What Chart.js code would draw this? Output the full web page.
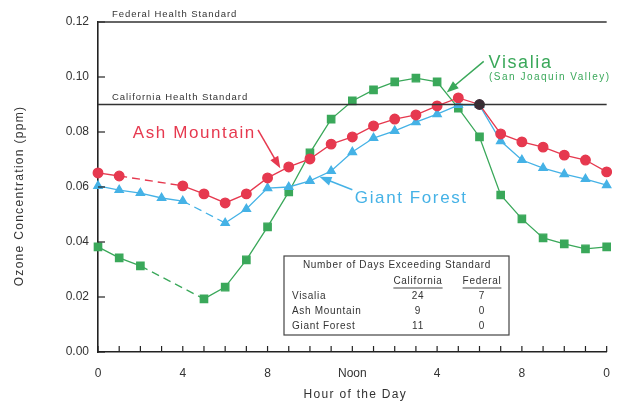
<!DOCTYPE html>
<html>
<head>
<meta charset="utf-8">
<script src="https://cdn.jsdelivr.net/npm/chart.js@4.4.1/dist/chart.umd.min.js"></script>
<style>
  html, body { margin: 0; padding: 0; background: #fff; }
  #wrap { width: 624px; height: 401px; position: relative; }
</style>
</head>
<body>
<div id="wrap"><canvas id="ozoneChart"></canvas></div>
<script>
// Ozone by hour of day
const hours = [0,1,2,3,4,5,6,7,8,9,10,11,12,13,14,15,16,17,18,19,20,21,22,23,24];
const xTickLabels = {0: '0', 4: '4', 8: '8', 12: 'Noon', 16: '4', 20: '8', 24: '0'};
const yTicks = [0, 0.02, 0.04, 0.06, 0.08, 0.10, 0.12];

const visalia = [0.0382, 0.0342, 0.0313, null, null, 0.0193, 0.0236, 0.0335, 0.0455, 0.0582,
  0.0724, 0.0847, 0.0913, 0.0953, 0.0982, 0.0996, 0.0982, 0.0887, 0.0782, 0.0571,
  0.0484, 0.0415, 0.0393, 0.0375, 0.0382];
const ashMountain = [0.0651, 0.0640, null, null, 0.0604, 0.0575, 0.0542, 0.0575, 0.0633, 0.0673,
  0.0702, 0.0756, 0.0782, 0.0822, 0.0847, 0.0862, 0.0895, 0.0924, 0.0900, 0.0793,
  0.0764, 0.0745, 0.0716, 0.0698, 0.0655];
const giantForest = [0.0604, 0.0589, 0.0578, 0.0560, 0.0549, null, 0.0469, 0.0520, 0.0596, 0.0600,
  0.0622, 0.0658, 0.0727, 0.0778, 0.0804, 0.0836, 0.0865, 0.0898, 0.0898, 0.0767,
  0.0698, 0.0669, 0.0647, 0.0629, 0.0607];

const federalStandard = 0.12;
const californiaStandard = 0.09;

const tableTitle = 'Number of Days Exceeding Standard';
const tableColumns = ['California', 'Federal'];
const tableSites = ['Visalia', 'Ash Mountain', 'Giant Forest'];
const californiaDays = [24, 9, 11];
const federalDays = [7, 0, 0];

const RED = '#e6394f';
const BLUE = '#45b2e6';
const GREEN = '#3aa85a';
const FONT = '"Liberation Sans", Arial, sans-serif';

// dashed across missing hours
const gapDash = ctx => (ctx.p0.skip || ctx.p1.skip || ctx.p1DataIndex - ctx.p0DataIndex > 1 ? [8, 5] : undefined);

// inward ticks, standard lines, axis titles and labels
const decorations = {
  id: 'decorations',
  afterDraw(chart) {
    const { ctx, chartArea: area, scales: { x, y } } = chart;
    ctx.save();
    ctx.strokeStyle = '#222';
    ctx.lineWidth = 1.2;
    hours.forEach(h => {
      const px = x.getPixelForValue(h);
      ctx.beginPath();
      ctx.moveTo(px, area.bottom);
      ctx.lineTo(px, area.bottom - 6);
      ctx.stroke();
    });
    yTicks.forEach(v => {
      const py = y.getPixelForValue(v);
      ctx.beginPath();
      ctx.moveTo(area.left, py);
      ctx.lineTo(area.left + 7, py);
      ctx.stroke();
    });

    // standards
    ctx.lineWidth = 1.6;
    ctx.strokeStyle = '#333';
    [federalStandard, californiaStandard].forEach(v => {
      const py = y.getPixelForValue(v);
      ctx.beginPath();
      ctx.moveTo(area.left, py);
      ctx.lineTo(area.right, py);
      ctx.stroke();
    });
    ctx.fillStyle = '#333';
    ctx.font = '9.5px ' + FONT;
    ctx.letterSpacing = '0.95px';
    ctx.textBaseline = 'bottom';
    ctx.fillText('Federal Health Standard', area.left + 14, y.getPixelForValue(federalStandard) - 3);
    ctx.fillText('California Health Standard', area.left + 14, y.getPixelForValue(californiaStandard) - 2);

    // axis titles
    ctx.font = '12px ' + FONT;
    ctx.letterSpacing = '1.3px';
    ctx.textAlign = 'center';
    ctx.textBaseline = 'middle';
    ctx.fillText('Hour of the Day', (area.left + area.right) / 2 + 3, 395);
    ctx.save();
    ctx.translate(20, 196);
    ctx.rotate(-Math.PI / 2);
    ctx.fillText('Ozone Concentration (ppm)', 0, 0);
    ctx.restore();
    ctx.textAlign = 'left';

    // series labels with arrows
    const label = (text, hour, val, color, size) => {
      ctx.fillStyle = color;
      ctx.font = size + 'px ' + FONT;
      ctx.textBaseline = 'middle';
      ctx.fillText(text, x.getPixelForValue(hour), y.getPixelForValue(val));
    };
    const arrow = (h0, v0, h1, v1, color) => {
      const x0 = x.getPixelForValue(h0), y0 = y.getPixelForValue(v0);
      const x1 = x.getPixelForValue(h1), y1 = y.getPixelForValue(v1);
      const a = Math.atan2(y1 - y0, x1 - x0);
      ctx.strokeStyle = color;
      ctx.fillStyle = color;
      ctx.lineWidth = 1.5;
      ctx.beginPath();
      ctx.moveTo(x0, y0);
      ctx.lineTo(x1 - 8 * Math.cos(a), y1 - 8 * Math.sin(a));
      ctx.stroke();
      ctx.beginPath();
      ctx.moveTo(x1, y1);
      ctx.lineTo(x1 - 12 * Math.cos(a) + 4.5 * Math.sin(a), y1 - 12 * Math.sin(a) - 4.5 * Math.cos(a));
      ctx.lineTo(x1 - 12 * Math.cos(a) - 4.5 * Math.sin(a), y1 - 12 * Math.sin(a) + 4.5 * Math.cos(a));
      ctx.closePath();
      ctx.fill();
    };
    ctx.letterSpacing = '1.6px';
    label('Ash Mountain', 1.64, 0.0797, RED, 17);
    arrow(7.55, 0.0808, 8.6, 0.0668, RED);
    label('Giant Forest', 12.12, 0.0558, BLUE, 17);
    arrow(12.0, 0.0590, 10.45, 0.0637, BLUE);
    label('Visalia', 18.43, 0.1052, GREEN, 18);
    ctx.letterSpacing = '1.5px';
    label('(San Joaquin Valley)', 18.45, 0.1, GREEN, 10);
    arrow(18.2, 0.1057, 16.45, 0.0944, GREEN);

    // table box
    const bx = 284, by = 256, bw = 225, bh = 79;
    ctx.strokeStyle = '#444';
    ctx.lineWidth = 1.2;
    ctx.fillStyle = '#fff';
    ctx.fillRect(bx, by, bw, bh);
    ctx.strokeRect(bx, by, bw, bh);
    ctx.fillStyle = '#333';
    ctx.font = '10px ' + FONT;
    ctx.letterSpacing = '0.7px';
    ctx.textAlign = 'center';
    ctx.textBaseline = 'middle';
    ctx.fillText(tableTitle, bx + 113, by + 9);
    const colX = [bx + 134, bx + 198];
    tableColumns.forEach((c, i) => {
      ctx.fillText(c, colX[i], by + 25);
      const w = ctx.measureText(c).width;
      ctx.beginPath();
      ctx.moveTo(colX[i] - w / 2, by + 32);
      ctx.lineTo(colX[i] + w / 2, by + 32);
      ctx.lineWidth = 1;
      ctx.stroke();
    });
    tableSites.forEach((s, i) => {
      const ry = by + 40 + i * 15;
      ctx.textAlign = 'left';
      ctx.fillText(s, bx + 8, ry);
      ctx.textAlign = 'center';
      ctx.fillText(String(californiaDays[i]), colX[0], ry);
      ctx.fillText(String(federalDays[i]), colX[1], ry);
    });
    ctx.restore();
  }
};

const baseSet = {
  borderWidth: 1.3,
  spanGaps: true,
  tension: 0,
  segment: { borderDash: gapDash }
};

new Chart(document.getElementById('ozoneChart'), {
  type: 'line',
  data: {
    labels: hours,
    datasets: [
      Object.assign({}, baseSet, {
        label: 'Ash Mountain', data: ashMountain, borderColor: RED,
        pointBackgroundColor: ctx => (ctx.dataIndex === 18 ? '#3b2b35' : RED),
        pointBorderColor: ctx => (ctx.dataIndex === 18 ? '#3b2b35' : RED),
        pointStyle: 'circle', pointRadius: 4.8, order: 1
      }),
      Object.assign({}, baseSet, {
        label: 'Giant Forest', data: giantForest, borderColor: BLUE,
        pointBackgroundColor: BLUE, pointBorderColor: BLUE,
        pointStyle: 'triangle', pointRadius: 4.8, order: 2
      }),
      Object.assign({}, baseSet, {
        label: 'Visalia', data: visalia, borderColor: GREEN,
        pointBackgroundColor: GREEN, pointBorderColor: GREEN,
        pointStyle: 'rect', pointRadius: 5.2, order: 3
      })
    ]
  },
  options: {
    responsive: true,
    maintainAspectRatio: false,
    animation: false,
    layout: { padding: { left: 0, right: 13, top: 22, bottom: 0 } },
    plugins: { legend: { display: false }, tooltip: { enabled: false } },
    scales: {
      x: {
        type: 'category',
        offset: false,
        grid: { display: false, drawTicks: false },
        border: { display: true, color: '#222', width: 1.6 },
        ticks: {
          autoSkip: false, maxRotation: 0, padding: 14, color: '#333',
          font: { family: FONT, size: 12 },
          callback: (val, i) => (xTickLabels[hours[i]] !== undefined ? xTickLabels[hours[i]] : '')
        },
        afterFit: s => { s.height = 49; }
      },
      y: {
        min: 0, max: 0.12,
        grid: { display: false, drawTicks: false },
        border: { display: true, color: '#222', width: 1.6 },
        afterBuildTicks: s => { s.ticks = yTicks.map(v => ({ value: v })); },
        ticks: {
          padding: 9, color: '#333',
          font: { family: FONT, size: 12 },
          callback: v => v.toFixed(2)
        },
        afterFit: s => { s.width = 98; }
      }
    }
  },
  plugins: [decorations]
});
</script>
</body>
</html>
